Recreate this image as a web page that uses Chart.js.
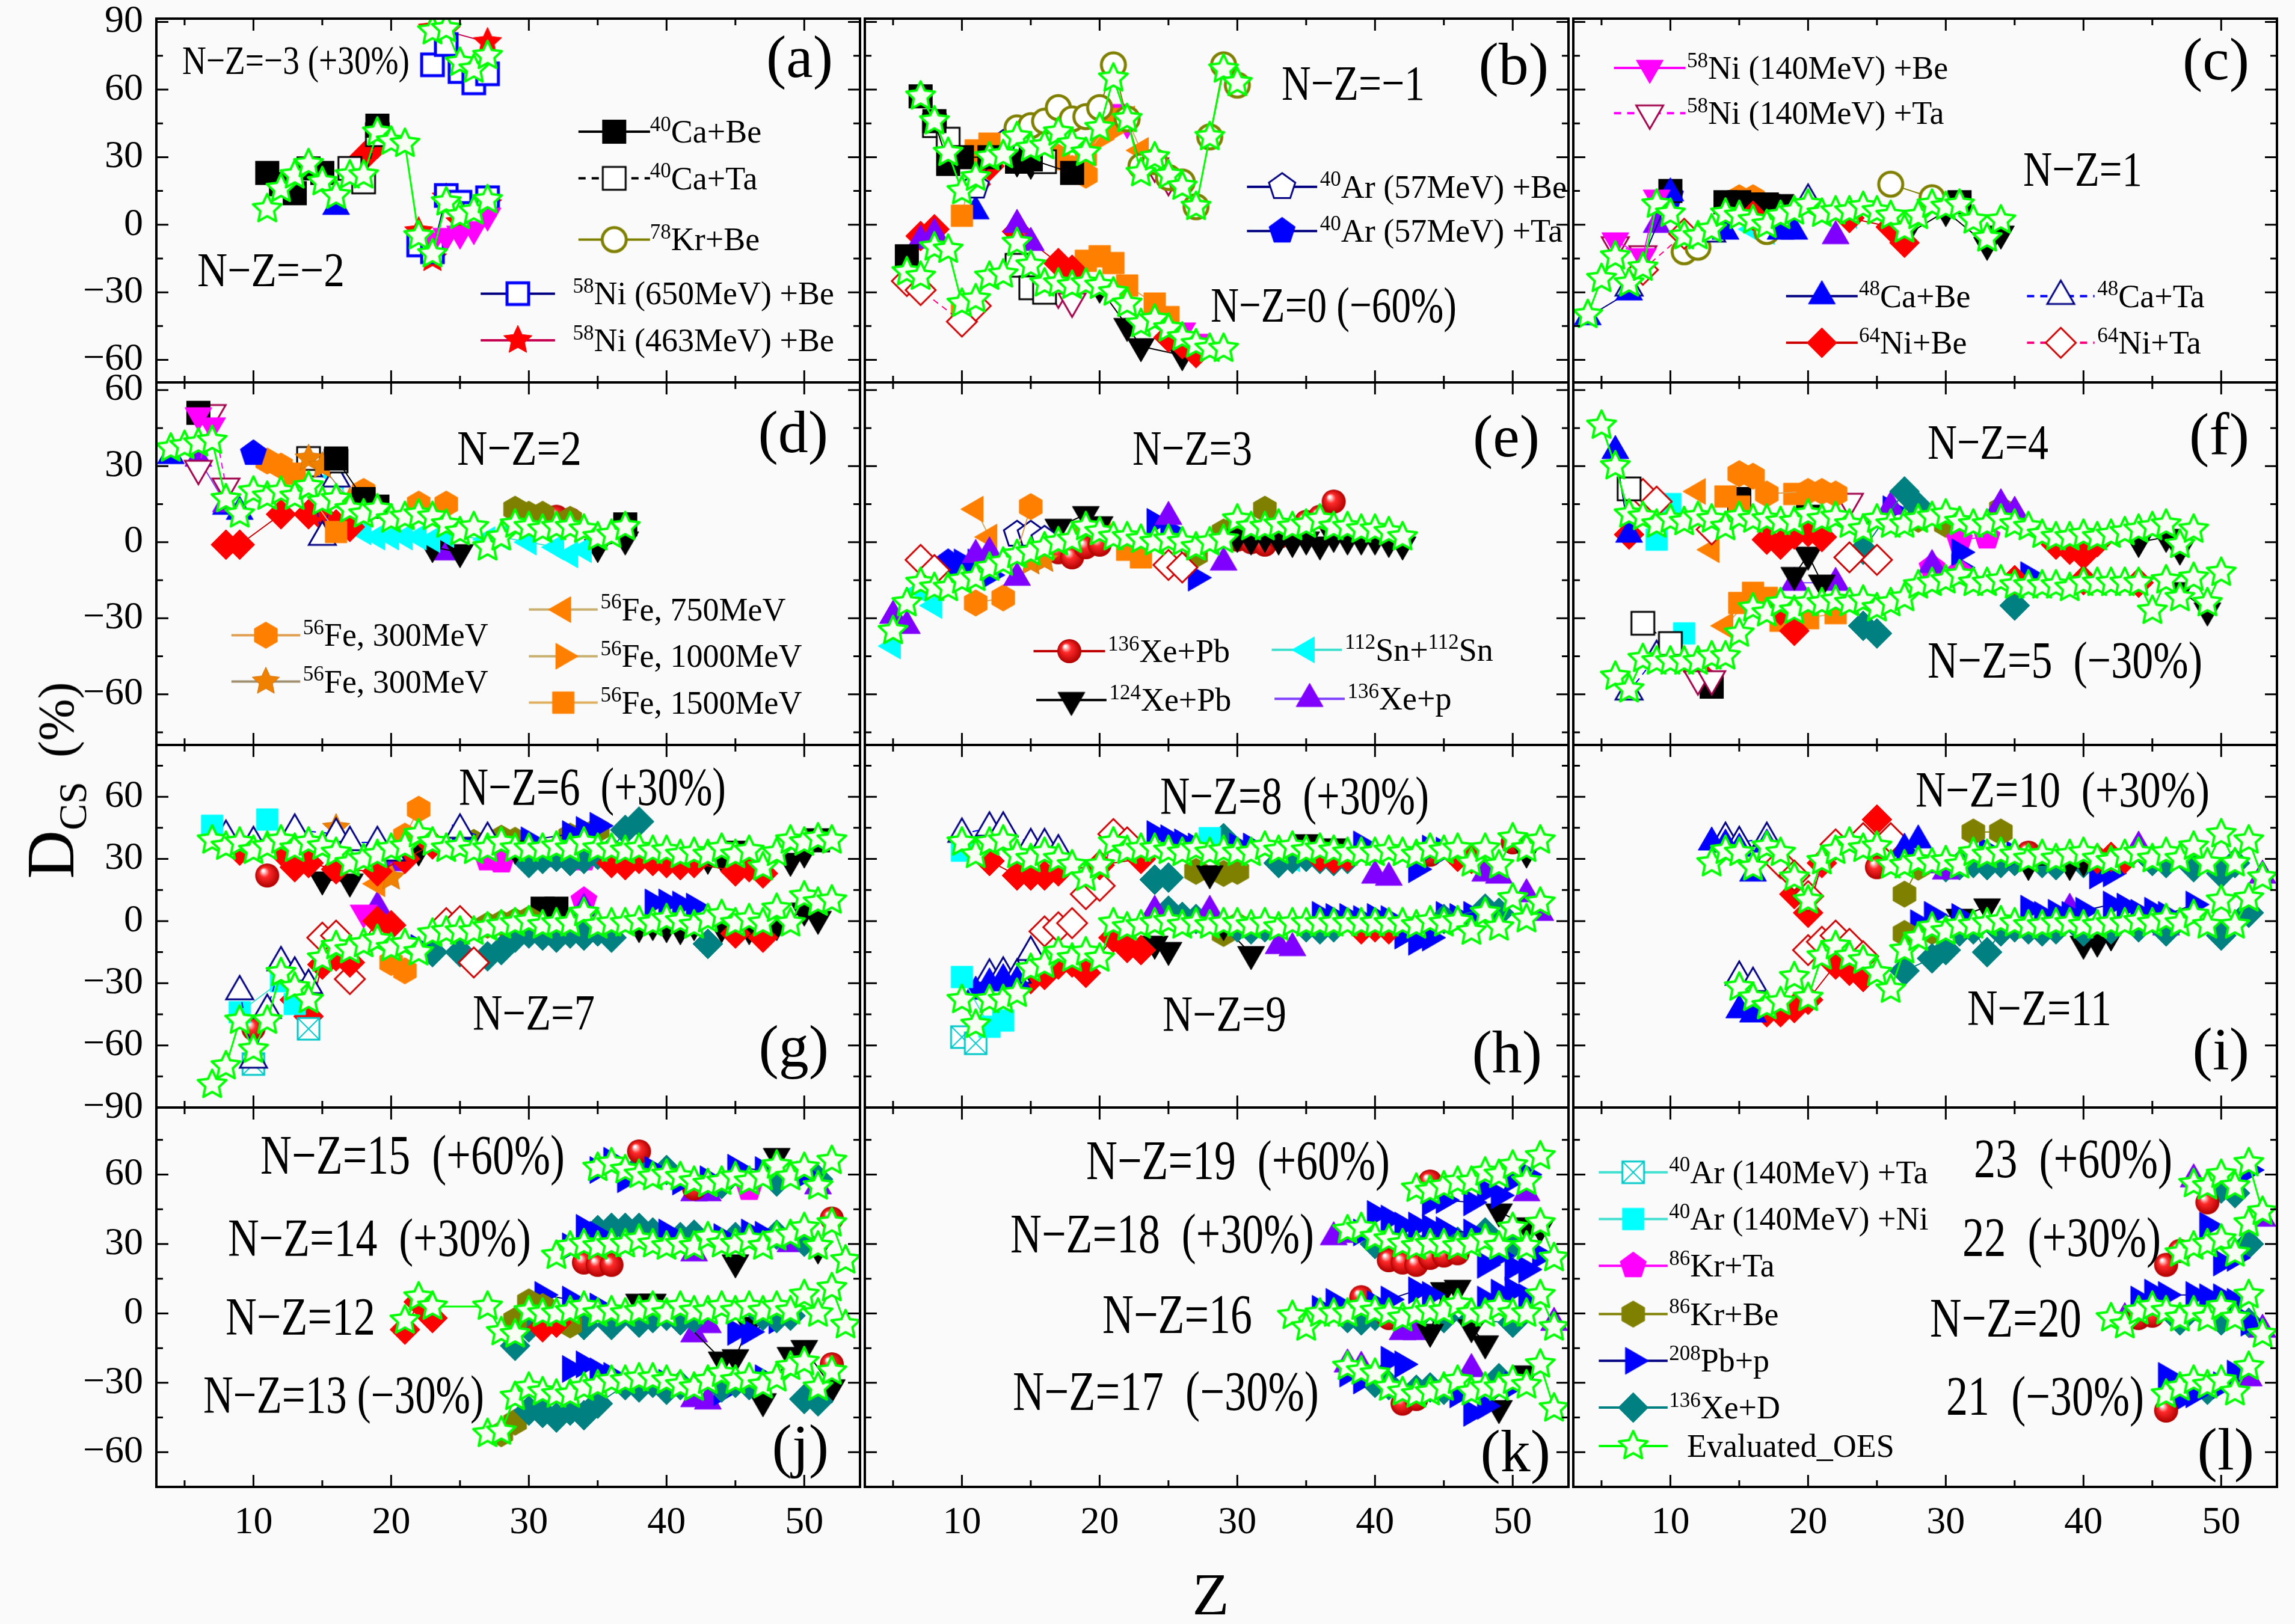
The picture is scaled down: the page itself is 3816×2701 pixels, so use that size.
<!DOCTYPE html>
<html>
<head>
<meta charset="utf-8">
<title>D_CS vs Z</title>
<script src="https://cdn.jsdelivr.net/npm/chart.js@4.4.1/dist/chart.umd.min.js"></script>
<style>
html,body{margin:0;padding:0;background:#fafafa;}
#fig{position:relative;width:3816px;height:2701px;overflow:hidden;background:#fafafa;font-family:"Liberation Serif","DejaVu Serif",serif;}
#fig canvas{position:absolute;}
.ttl{position:absolute;color:#000;white-space:nowrap;line-height:1;z-index:10;}
</style>
</head>
<body>
<div id="fig">
  <div class="ttl" style="left:84px;top:1298px;transform:translate(-50%,-50%) rotate(-90deg);font-size:112px;">D<span style="font-size:66px;position:relative;top:0.32em;">CS</span><span style="font-size:84px;margin-left:40px;">(%)</span></div>
  <div class="ttl" style="left:2013px;top:2652px;transform:translate(-50%,-50%);font-size:100px;">Z</div>
</div>
<script>
// === axes ===
const zRange = [2.95, 54.05];
const zTicks = [10, 20, 30, 40, 50];
const zMinor = [5, 15, 25, 35, 45];
const yRanges = [[-70, 91.5], [-80, 63], [-90, 85], [-75, 89]];
const yTicks = [[90,60,30,0,-30,-60], [60,30,0,-30,-60], [60,30,0,-30,-60,-90], [60,30,0,-30,-60]];
const yMinor = [[75,45,15,-15,-45], [45,15,-15,-45,-75], [75,45,15,-15,-45,-75], [75,45,15,-15,-45]];

// === Evaluated_OES chains: [first Z, values] segments (values as plotted, shifts included) ===
const oesA = [
  [[11, [7,16,22,27,19,13,22,22,41,37,36,-5,-13,10,4,6,11]]],            // N-Z=-2
  [[23, [86,87,72,69,75]]]                                               // N-Z=-3 (+30%)
];
const oesB = [
  [[7, [57,46,32,15,21,30,31,39,34,35,41,36,32,43,65,47,23,30,22,17,8,39,69,63]]],          // N-Z=-1
  [[6, [-21,-23,-10,-11,-35,-33,-23,-22,-8,-18,-26,-26,-27,-26,-27,-30,-35,-44,-42,-46,-50,-53,-55,-55]]] // N-Z=0 (-60%)
];
const oesC = [
  [[4, [-40,-24,-14,-26,-19,9,5,-5,-5,-2,5,4,2,0,4,6,9,5,6,6,8,6,4,-2,4,9,8,9,2,-6,2]]]      // N-Z=1
];
const oesD = [
  [[4, [37,38,39,40,17,11,20,18,20,18,22,16,17,13,11,13,9,10,11,10,7,4,6,-2,2,7,6,5,6,6,5,2,3,6]]] // N-Z=2
];
const oesE = [
  [[5, [-35,-24,-16,-18,-18,-15,-14,-10,-8,-5,-4,-2,0,1,6,4,2,2,1,0,1,0,-2,0,1,9,6,6,7,6,7,9,6,6,5,5,4,2]]] // N-Z=3
];
const oesF = [
  [[5, [46,30,11,10,7,9,8,10,9,6,10,9,9,8,8,11,9,10,7,5,9,7,7,9,10,11,8,7,7,9,7,6,3,2,2,3,2,3,4,5,6,7,-1,5]]], // N-Z=4
  [[6, [-53,-58,-46,-47,-47,-47,-47,-45,-45,-36,-26,-28,-24,-27,-24,-24,-23,-24,-23,-26,-24,-22,-17,-16,-15,-13,-16,-16,-15,-17,-17,-17,-17,-18,-16,-16,-16,-16,-16,-27,-15,-22,-14,-24,-12]]] // N-Z=5 (-30%)
];
const oesG = [
  [[7, [39,36,38,34,36,39,35,38,36,33,28,30,32,35,36,42,38,35,36,34,35,38,35,35,35,36,35,38,35,35,34,35,34,34,32,33,32,35,32,34,26,33,39,38,40,39]]], // N-Z=6 (+30%)
  [[7, [-79,-70,-48,-62,-48,-25,-32,-38,-18,-12,-14,-11,-9,-13,-11,-15,-6,-5,-5,-5,-3,-2,-1,0,-2,-1,-1,4,-2,-1,-1,0,-1,1,0,-2,1,3,-1,1,-1,6,-1,12,9,10]]] // N-Z=7
];
const oesH = [
  [[10, [38,32,38,39,32,30,33,30,27,21,27,38,34,35,35,34,33,35,33,34,33,33,36,34,36,34,35,34,33,33,33,34,33,32,35,34,35,28,35,27,40,35,39]]], // N-Z=8 (+30%)
  [[10, [-38,-50,-38,-38,-35,-23,-21,-15,-18,-15,-18,-1,-3,-2,-1,0,-2,-1,-2,-1,-1,-2,-1,-3,-1,-1,-1,-1,-1,-1,-1,-1,-1,-2,0,-1,0,-5,4,-3,11,1,9]]] // N-Z=9
];
const oesI = [
  [[13, [28,34,33,26,36,33,21,10,29,34,38,35,36,27,27,29,28,29,27,33,32,33,32,30,32,30,32,33,30,29,32,33,30,33,30,36,28,42,28,39,21]]], // N-Z=10 (+30%)
  [[15, [-32,-37,-41,-39,-27,-37,-17,-12,-17,-19,-25,-33,-14,-8,-3,-5,-2,-2,-1,0,-1,-2,-2,-1,-1,-2,-2,-1,-1,0,-1,1,-1,3,-2,10,-2,11]]] // N-Z=11
];
const oesJ = [
  [[35, [63,65,62,60,59,60,59,57,56,57,59,57,59,64,59,63,55,66]]],                 // N-Z=15 (+60%)
  [[32, [25,29,30,29,30,30,32,30,29,30,29,33,30,30,32,29,33,34,37,29,39,23]]],     // N-Z=14 (+30%)
  [[21, [-3,7,3]], [27, [3,-8,-9,1,0,0,1,3,0,1,0,1,3,0,3,1,1,3,1,3,1,3,1,8,0,11,-5]]], // N-Z=12
  [[27, [-52,-51,-36,-32,-34,-35,-35,-32,-31,-29,-29,-28,-28,-29,-31,-32,-29,-26,-29,-28,-31,-28,-23,-21,-32,-25]]] // N-Z=13 (-30%)
];
const oesK = [
  [[43, [54,53,55,57,57,61,60,64,57,68]]],                                         // N-Z=19 (+60%)
  [[38, [36,37,33,32,30,29,30,30,29,30,32,29,37,29,39,24]]],                       // N-Z=18 (+30%)
  [[34, [-1,-6,0,0,0,3,1,0,-2,0,1,1,4,0,0,3,0,0,8,-6]]],                           // N-Z=16
  [[38, [-23,-25,-26,-32,-34,-35,-34,-32,-29,-34,-32,-32,-29,-31,-22,-41]]]        // N-Z=17 (-30%)
];
const oesL = [
  [[48, [56,55,60,55,65,44]]],                 // 23 (+60%)
  [[47, [26,29,30,32,26,39]]],                 // 22 (+30%)
  [[42, [-2,-5,1,3,1,-2,1,-2,3,-2,8,-9]]],     // N-Z=20
  [[46, [-35,-32,-29,-31,-29,-34,-23]]]        // 21 (-30%)
];

// === measured data: [series, [[Z, D], ...]] ===
const expA = [
  ['ca40Be', [[11,23],[12,18],[13,14],[14,25],[15,23],[19,44]]],
  ['ca40Ta', [[17,25],[18,19],[19,40]]],
  ['ca48Be', [[16,8]]],
  ['ni64Be', [[18,30],[19,36]]],
  ['ni58_140Be', [[23,-7],[24,-5],[25,-4],[26,-2],[27,4]]],
  ['ni58_650Be', [[22,-9],[23,-12],[24,13],[25,10],[26,5],[27,12]]],
  ['ni58_650Be', [[23,71],[24,80],[25,68],[26,63],[27,67]]],
  ['ni58_463Be', [[22,-3],[23,-15],[24,12],[25,1],[26,4],[27,9]]],
  ['ni58_463Be', [[23,87],[24,86],[27,81]]]
];
const expB = [
  ['kr78Be', [[14,43],[15,44],[16,46],[17,52],[18,47],[19,48],[20,52],[21,71],[22,47],[23,26],[24,28],[25,21],[26,19],[27,8],[28,39],[29,71],[30,62]]],
  ['ca40Be', [[7,57],[8,46],[9,27],[10,30],[12,30],[14,28],[15,29],[18,23]]],
  ['ca40Ta', [[8,44],[9,38],[16,28]]],
  ['fe1500', [[10,4],[11,33],[12,36],[19,31],[21,47]]],
  ['fe300h', [[11,30],[17,30],[18,25],[19,22]]],
  ['fe1000', [[20,38],[21,42]]],
  ['fe750', [[22,47],[23,33]]],
  ['ar40_57Be', [[11,17],[13,36]]],
  ['ca48Be', [[11,6]]],
  ['ni64Be', [[11,18],[12,26]]],
  ['ni58_140Ta', [[24,26],[25,20]]],
  ['xe124Pb', [[14,28],[15,27]]],
  ['ni58_140Be', [[21,50],[22,45]]],
  ['ca40Be', [[6,-14]]],
  ['xe136p', [[7,-7],[8,-4],[14,0],[15,-8]]],
  ['ni64Be', [[7,-5],[8,-2],[14,-3],[17,-17],[18,-20],[25,-50],[26,-53],[27,-57]]],
  ['ni64Ta', [[6,-25],[7,-29],[10,-43],[11,-36]]],
  ['fe1500', [[10,-40],[19,-16],[20,-14],[21,-17],[22,-27],[24,-35],[25,-41]]],
  ['xe124Pb', [[20,-28],[22,-45],[23,-54],[26,-58]]],
  ['ni58_140Be', [[26,-47],[27,-52]]],
  ['ca40Ta', [[14,-18],[15,-28],[16,-30]]],
  ['ni58_140Ta', [[17,-30],[18,-34]]]
];
const expC = [
  ['ni58_140Be', [[6,-7],[8,-14],[9,12]]],
  ['ni58_140Ta', [[6,-9],[8,-13]]],
  ['ca48Be', [[4,-41],[7,-30],[10,14],[14,-3],[18,-3],[19,-3]]],
  ['ca48Ta', [[7,-28],[13,-4],[20,11]]],
  ['ni64Be', [[16,4],[23,3],[26,-1],[27,-8]]],
  ['ni64Ta', [[8,-20],[11,-4]]],
  ['kr78Be', [[11,-12],[12,-10],[17,-3],[26,18],[29,12]]],
  ['ca40Be', [[10,15],[14,10],[15,10],[16,9],[17,9],[31,10]]],
  ['fe300h', [[15,12],[16,12]]],
  ['xe124Pb', [[17,10],[18,10],[27,-5],[30,6],[33,-9],[34,-4]]],
  ['xe136p', [[9,0],[22,-5]]],
  ['sn112', [[16,-2],[17,-3],[23,4]]],
  ['ar40_57Ta', [[10,13]]]
];
const expD = [
  ['ni58_140Be', [[6,50],[7,46]]],
  ['ca40Be', [[6,51],[16,33],[18,17],[19,14],[37,7]]],
  ['ni58_140Ta', [[6,29],[7,51],[8,22]]],
  ['ar40_57Ta', [[10,35]]],
  ['fe300h', [[11,32],[12,30],[18,20],[22,15],[24,15]]],
  ['fe300s', [[14,33],[15,30],[17,16]]],
  ['fe1500', [[13,27],[16,4]]],
  ['ca40Ta', [[14,33],[16,32]]],
  ['ca48Ta', [[14,29],[15,2],[16,25]]],
  ['ni64Be', [[8,-1],[9,-1],[12,11],[14,11],[15,10],[16,7],[17,6]]],
  ['sn112', [[16,26],[18,4],[19,2],[20,2],[21,2],[22,2],[23,1],[24,3],[27,1],[28,2],[30,0],[32,-2],[33,-5],[34,-3]]],
  ['kr86Be', [[29,13],[30,11],[31,11],[33,9]]],
  ['xe124Pb', [[23,-2],[25,-4],[35,-2],[37,1]]],
  ['xe136p', [[6,33],[8,15],[24,-4]]],
  ['xe136Pb', [[30,9],[31,9],[32,10],[33,9]]],
  ['ca48Be', [[4,34],[8,14],[9,12]]]
];
const expE = [
  ['xe136p', [[5,-29],[6,-33],[11,-5],[12,-4],[14,-14],[25,10],[29,-8]]],
  ['ni64Ta', [[7,-7],[8,-11],[25,-9],[26,-10]]],
  ['sn112', [[5,-41],[7,-19],[8,-25]]],
  ['fe750', [[11,13],[12,2]]],
  ['fe300h', [[11,-24],[13,-22],[15,14]]],
  ['fe300s', [[15,-8],[16,-7]]],
  ['ar40_57Be', [[14,3],[15,3],[16,1]]],
  ['pb208p', [[10,-8],[11,-8],[12,-13],[24,8],[25,5],[27,-14]]],
  ['xe124Pb', [[17,6],[19,11],[20,7],[30,2],[31,1],[32,2],[33,1],[34,0],[35,1],[36,-1],[37,2],[38,1],[39,1],[40,1],[41,0],[42,-1]]],
  ['xe136Pb', [[17,-4],[18,-6],[19,-2],[20,-1],[30,1],[31,0],[32,-1],[33,2],[35,8],[36,10],[37,16]]],
  ['kr86Be', [[27,-5],[29,4],[30,6],[32,13]]],
  ['ar40_57Ta', [[9,-8],[10,-13]]],
  ['fe1500', [[19,4],[20,5],[22,-3],[23,-6]]]
];
const expF = [
  ['ca48Be', [[6,36],[7,3]]],
  ['ca40Ta', [[7,21]]],
  ['ni64Ta', [[8,19],[9,16],[13,5],[23,-6],[25,-7]]],
  ['ar40_140Ni', [[9,1],[10,15]]],
  ['ni64Be', [[7,3],[17,1],[18,-1],[19,3],[20,4],[21,2],[38,-1],[39,-3],[40,-5],[41,0]]],
  ['fe750', [[12,20],[13,-3]]],
  ['fe300h', [[15,27],[16,26],[17,19],[20,20],[21,20],[22,19]]],
  ['fe1500', [[14,18],[15,14],[19,19]]],
  ['ca40Be', [[15,17],[20,10]]],
  ['ni58_140Ta', [[23,16]]],
  ['xe136D', [[24,-3],[27,20],[28,14]]],
  ['xe136p', [[26,14],[34,15],[35,12]]],
  ['pb208p', [[26,13],[31,-4]]],
  ['xe124Pb', [[24,5],[40,2],[44,0],[46,2],[47,-3]]],
  ['kr86Ta', [[31,1],[33,2]]],
  ['kr86Be', [[28,9],[30,7],[34,13]]],
  ['ca40Ta', [[8,-32],[10,-40]]],
  ['ar40_140Ni', [[11,-36]]],
  ['ca48Ta', [[7,-59],[9,-45]]],
  ['ni58_140Ta', [[12,-54],[13,-54]]],
  ['ca40Be', [[13,-57]]],
  ['ni64Be', [[12,-51],[18,-27],[19,-35],[35,-15],[40,-15],[44,-16]]],
  ['fe1500', [[15,-24],[16,-20],[17,-22],[18,-31],[20,-30],[22,-28]]],
  ['fe750', [[14,-33],[16,-21]]],
  ['xe124Pb', [[19,-13],[20,-5],[21,-16],[47,-19],[49,-27]]],
  ['xe136D', [[24,-33],[25,-36],[35,-25]]],
  ['xe136p', [[19,-16],[22,-16],[29,-9]]],
  ['kr86Ta', [[29,-10],[31,-12]]],
  ['pb208p', [[31,-10],[36,-13]]]
];
const expG = [
  ['ar40_140Ni', [[7,46],[11,49]]],
  ['ca48Ta', [[8,41],[10,38],[13,44],[16,42],[17,38],[19,38],[20,33],[25,44],[27,40]]],
  ['xe136Pb', [[11,22]]],
  ['ni64Be', [[9,34],[12,34],[13,26],[14,28],[16,25],[19,24],[21,30],[23,37],[42,28],[45,24],[46,26],[47,23]]],
  ['ni64Be', [[36,28],[37,27],[38,30],[39,29],[40,28],[41,27]]],
  ['xe124Pb', [[15,20],[17,19],[22,34],[29,35],[45,34],[49,29],[50,33]]],
  ['xe124Pb', [[38,31],[39,30],[40,31],[41,30],[42,29],[43,30],[44,31]]],
  ['fe300s', [[16,45],[20,21]]],
  ['fe300h', [[21,41],[22,54]]],
  ['fe750', [[19,18]]],
  ['pb208p', [[25,40],[30,39],[33,42],[34,44],[35,46]]],
  ['kr86Be', [[26,38],[28,40],[29,39],[33,41],[34,42],[35,44]]],
  ['xe136D', [[30,28],[31,30],[32,31],[33,29],[34,30],[35,32],[36,34],[37,44],[38,48]]],
  ['kr86Ta', [[27,30],[28,29],[34,30]]],
  ['xe136p', [[20,28],[32,30]]],
  ['ca40Be', [[45,33],[51,39]]],
  ['ca48Ta', [[9,-34],[10,-67],[11,-43],[12,-20],[13,-25],[14,-31]]],
  ['ar40_140Ta', [[10,-69],[14,-52]]],
  ['ar40_140Ni', [[9,-44],[12,-29],[13,-40]]],
  ['xe136Pb', [[10,-52]]],
  ['ni64Be', [[13,-38],[14,-46],[15,-21],[16,-17],[17,-20],[19,0],[20,-2],[45,-6],[47,-8]]],
  ['ni64Ta', [[15,-8],[16,-7],[17,-28],[24,-1],[25,0],[26,-20]]],
  ['ni58_140Be', [[18,4]]],
  ['xe136p', [[19,7],[34,6]]],
  ['fe300h', [[20,-20],[21,-24]]],
  ['pb208p', [[22,-13],[39,9],[40,9],[41,8],[42,7]]],
  ['xe136D', [[23,-15],[25,-15],[27,-17],[28,-14],[36,-8],[43,-11]]],
  ['xe136D', [[29,-8],[30,-6],[31,-7],[32,-8],[33,-6],[34,-7],[35,-5]]],
  ['kr86Be', [[27,-2],[28,-1],[29,0],[30,1]]],
  ['ca40Be', [[31,6],[32,6]]],
  ['kr86Ta', [[34,10]]],
  ['xe124Pb', [[38,-3],[39,-2],[40,-3],[41,-4],[42,-2],[44,-3],[46,-4],[48,-2],[50,5],[51,1]]]
];
const expH = [
  ['ca48Ta', [[10,42],[12,45],[13,45],[15,37],[16,37],[17,34]]],
  ['ar40_140Ni', [[10,34],[28,40]]],
  ['ni64Be', [[12,29],[14,22],[15,22],[16,22],[17,24],[20,27],[23,30]]],
  ['ni64Be', [[36,31],[37,30],[38,31],[46,31],[47,30]]],
  ['ni64Ta', [[19,13],[20,17],[21,42],[22,38]]],
  ['pb208p', [[24,42],[25,40],[26,38],[27,36],[28,36],[29,35],[30,36],[31,36],[39,37],[43,25],[44,35],[45,34]]],
  ['xe136D', [[24,20],[25,21],[29,40],[33,28],[34,30],[35,31],[36,30],[37,29],[38,30]]],
  ['xe124Pb', [[28,23],[35,38],[37,36],[51,33]]],
  ['kr86Be', [[27,24],[29,23],[30,24]]],
  ['xe136p', [[40,22],[41,21],[48,23],[49,22]]],
  ['sn112', [[34,30]]],
  ['xe136Pb', [[44,32],[50,38]]],
  ['ar40_140Ni', [[10,-27],[12,-51],[13,-48]]],
  ['ar40_140Ta', [[10,-56],[11,-59]]],
  ['ca48Be', [[11,-34],[12,-30],[13,-28],[14,-29]]],
  ['ca48Ta', [[12,-26],[13,-25],[14,-26],[15,-15]]],
  ['ni64Ta', [[16,-5],[17,-3],[18,-1]]],
  ['ni64Be', [[15,-28],[16,-26],[17,-21],[18,-20],[19,-25],[21,-8],[22,-13],[23,-14]]],
  ['ni64Be', [[39,-4],[40,-3],[41,-4]]],
  ['xe136p', [[24,5],[28,5],[33,-12],[34,-13],[51,13],[52,4]]],
  ['xe136D', [[25,5],[26,2],[27,1],[30,-3],[31,-4],[32,-3],[35,-3],[36,-4],[37,-3],[45,1],[48,6],[49,4]]],
  ['xe124Pb', [[24,-11],[25,-14],[29,-2],[31,-16]]],
  ['kr86Be', [[29,-6],[30,-2]]],
  ['pb208p', [[36,3],[37,2],[38,2],[39,1],[40,2],[41,1],[42,-7],[43,-10],[44,-8],[45,3],[46,2],[47,3]]]
];
const expI = [
  ['ca48Be', [[13,38],[14,37],[15,35],[16,23],[17,37],[27,35],[28,39]]],
  ['ca48Ta', [[14,40],[15,38],[17,40]]],
  ['ni64Ta', [[18,28],[19,22],[20,12],[22,37],[24,40],[26,40]]],
  ['ni64Be', [[19,13],[20,4],[21,28],[25,49]]],
  ['ni64Be', [[41,30],[42,31],[43,30]]],
  ['xe136Pb', [[25,26],[36,33]]],
  ['kr86Be', [[27,13],[28,26],[32,43],[34,43]]],
  ['xe136p', [[29,27],[30,24],[44,36],[53,22]]],
  ['pb208p', [[27,33],[33,34],[35,32],[41,22],[42,23]]],
  ['xe124Pb', [[36,27],[39,27],[40,29]]],
  ['xe136D', [[30,26],[31,27],[32,28],[33,27],[34,28],[35,29],[37,28],[38,27],[39,29],[40,28]]],
  ['xe136D', [[45,29],[46,28],[48,26],[50,23],[51,28]]],
  ['ca48Ta', [[15,-27],[16,-30]]],
  ['ca48Be', [[15,-43],[16,-45]]],
  ['ni64Be', [[17,-44],[18,-44],[19,-42],[20,-38],[22,-21],[23,-24],[24,-27]]],
  ['ni64Ta', [[20,-14],[21,-10],[22,-7],[23,-11],[24,-17]]],
  ['xe136D', [[27,-24],[29,-18],[30,-14],[31,-5],[32,-4],[33,-15],[34,-5],[35,-3],[36,-4],[37,-5],[38,-4],[40,-5],[42,-4],[44,-3],[46,-5],[50,-7],[52,4]]],
  ['kr86Be', [[27,-6],[29,-5]]],
  ['pb208p', [[28,-1],[29,3],[31,2],[36,6],[37,3],[38,4],[39,3],[40,5],[42,8],[43,7],[44,4],[45,5],[46,3],[48,8]]],
  ['xe124Pb', [[31,2],[33,7],[40,-11],[41,-10],[42,-7]]],
  ['xe136p', [[39,6],[46,-3]]]
];
const expJ = [
  ['pb208p', [[35,62],[36,66],[37,58],[39,62],[41,57],[43,58],[45,63],[47,62],[50,60]]],
  ['xe136Pb', [[38,70],[42,54]]],
  ['xe136D', [[38,63],[40,62],[44,56],[48,57],[51,58]]],
  ['xe136p', [[42,52],[43,52],[51,55]]],
  ['xe124Pb', [[48,68]]],
  ['kr86Ta', [[46,54]]],
  ['pb208p', [[33,29],[34,37],[35,34],[40,35],[44,33],[46,35],[47,34]]],
  ['xe136D', [[35,36],[36,37],[37,37],[38,37],[39,35],[41,33],[42,34],[45,33],[48,34],[50,31]]],
  ['xe136Pb', [[34,22],[35,21],[36,21],[52,41]]],
  ['xe124Pb', [[45,22],[51,28]]],
  ['xe136p', [[42,26],[49,30]]],
  ['ni64Be', [[21,-7],[22,5],[23,-2],[31,-6],[32,-4]]],
  ['kr86Be', [[29,-3],[30,5],[31,3],[32,-4],[33,-5]]],
  ['xe136D', [[29,-14],[30,-6],[34,-5],[36,-5],[38,-4],[39,-2],[40,-1],[41,-3],[42,-2],[47,-1],[48,-2],[49,-1]]],
  ['pb208p', [[31,8],[33,6],[35,3],[45,-8],[46,-8],[48,-3]]],
  ['xe124Pb', [[38,5],[39,5],[41,-2],[44,-20],[45,-19],[46,-5]]],
  ['xe136p', [[42,-9],[43,-5]]],
  ['xe136D', [[30,-42],[31,-43],[32,-45],[33,-42],[34,-44],[35,-39],[37,-31],[38,-32],[39,-30],[40,-33],[41,-31],[44,-32],[45,-30],[46,-31],[50,-37],[51,-38]]],
  ['kr86Be', [[28,-52],[29,-47]]],
  ['pb208p', [[33,-24],[34,-22],[35,-25],[36,-27],[40,-30],[44,-34],[47,-28]]],
  ['xe136p', [[42,-37],[43,-38]]],
  ['xe124Pb', [[47,-38],[49,-18],[50,-15],[52,-32]]],
  ['xe136Pb', [[52,-22]]]
];
const expK = [
  ['pb208p', [[44,48],[45,49],[47,48],[48,53],[49,51],[50,58],[51,60]]],
  ['xe136Pb', [[44,57]]],
  ['xe136p', [[51,52]]],
  ['pb208p', [[39,35],[40,43],[41,41],[42,38],[43,38],[44,37],[45,36],[47,35],[48,21],[49,25],[50,20],[51,19],[52,25]]],
  ['xe136Pb', [[41,23],[42,22],[43,21],[44,24],[45,25],[46,26]]],
  ['xe124Pb', [[49,44],[51,38],[52,37]]],
  ['xe136p', [[37,33],[38,34]]],
  ['xe136D', [[40,30],[41,31],[42,30],[43,29],[44,31],[46,31],[48,35],[50,30]]],
  ['pb208p', [[36,2],[37,5],[40,4],[41,6],[43,10],[44,8],[48,6],[49,9],[50,10],[51,7]]],
  ['xe136Pb', [[39,7],[41,-2]]],
  ['xe124Pb', [[44,-8],[45,10],[46,11],[47,-6],[48,-13]]],
  ['xe136p', [[42,-8],[43,-8],[53,-4]]],
  ['xe136D', [[38,-2],[39,-3],[40,-1],[42,-3],[43,-2],[45,-2],[47,-3],[50,-4]]],
  ['pb208p', [[38,-26],[39,-29],[41,-20],[42,-22],[46,-35],[47,-43],[48,-40],[50,-31]]],
  ['xe136Pb', [[42,-39],[43,-37]]],
  ['xe136p', [[38,-22],[39,-23],[47,-24]]],
  ['xe124Pb', [[49,-41],[51,-26]]],
  ['xe136D', [[40,-30],[41,-31],[43,-33],[44,-32],[45,-33],[49,-28]]]
];
const expL = [
  ['xe136Pb', [[49,48]]],
  ['xe136Pb', [[46,21],[47,27]]],
  ['xe136Pb', [[44,-2],[45,-1]]],
  ['xe136Pb', [[46,-42]]],
  ['pb208p', [[52,62]]],
  ['pb208p', [[49,38],[50,22],[51,24]]],
  ['pb208p', [[44,6],[45,9],[46,8],[48,8],[49,7],[50,7],[51,5],[52,-4]]],
  ['pb208p', [[46,-27],[47,-37],[48,-35],[50,-31],[51,-26]]],
  ['xe136p', [[48,58],[53,41]]],
  ['xe136p', [[43,-2],[53,-7]]],
  ['xe136p', [[52,-28]]],
  ['xe136D', [[50,54],[51,52]]],
  ['xe136D', [[52,30]]],
  ['xe136D', [[47,-3],[50,-3],[52,-4]]],
  ['xe136D', [[49,-33]]]
];

// === text in the panels: [text, left px, right px, centre y px, cap height] ===
const notesA = [['N\u2212Z=\u22123 (+30%)',303,681,100,45], ['N\u2212Z=\u22122',328,573,449,53]];
const notesB = [['N\u2212Z=\u22121',2131,2369,138,55], ['N\u2212Z=0 (\u221260%)',2013,2422,507,55]];
const notesC = [['N\u2212Z=1',3364,3562,281,55]];
const notesD = [['N\u2212Z=2',760,967,745,55]];
const notesE = [['N\u2212Z=3',1883,2082,745,55]];
const notesF = [['N\u2212Z=4',3205,3406,735,55], ['N\u2212Z=5  (\u221230%)',3205,3662,1098,57]];
const notesG = [['N\u2212Z=6  (+30%)',763,1207,1309,58], ['N\u2212Z=7',786,989,1685,56]];
const notesH = [['N\u2212Z=8  (+30%)',1929,2376,1324,58], ['N\u2212Z=9',1933,2139,1687,56]];
const notesI = [['N\u2212Z=10  (+30%)',3185,3674,1314,56], ['N\u2212Z=11',3271,3511,1677,56]];
const notesJ = [['N\u2212Z=15  (+60%)',433,939,1921,61], ['N\u2212Z=14  (+30%)',379,883,2059,58], ['N\u2212Z=12',375,624,2190,58], ['N\u2212Z=13 (\u221230%)',338,805,2320,58]];
const notesK = [['N\u2212Z=19  (+60%)',1806,2311,1930,61], ['N\u2212Z=18  (+30%)',1680,2185,2052,61], ['N\u2212Z=16',1833,2082,2186,61], ['N\u2212Z=17  (\u221230%)',1684,2193,2314,61]];
const notesL = [['23  (+60%)',3282,3612,1927,61], ['22  (+30%)',3263,3593,2058,61], ['N\u2212Z=20',3209,3461,2192,61], ['21  (\u221230%)',3236,3565,2322,61]];

// === legends: [series, line from Z, line to Z, at D, text from Z] ===
const legA = [['ca40Be',33.6,38.8,41.3,38.8], ['ca40Ta',33.6,38.8,20.6,38.8], ['kr78Be',33.6,38.8,-6.6,38.8], ['ni58_650Be',26.5,31.9,-30.6,33.2], ['ni58_463Be',26.5,31.9,-51.3,33.2]];
const legB = [['ar40_57Be',30.7,35.8,16.8,36.0], ['ar40_57Ta',30.7,35.8,-2.8,36.0]];
const legC = [['ni58_140Be',5.9,11.1,69.6,11.2], ['ni58_140Ta',5.9,11.1,49.5,11.2], ['ca48Be',18.4,23.6,-31.7,23.7], ['ca48Ta',35.9,40.8,-31.7,41.0], ['ni64Be',18.4,23.6,-52.4,23.7], ['ni64Ta',35.9,40.8,-52.4,41.0]];
const legD = [['fe300h',8.4,13.4,-36.7,13.6], ['fe300s',8.4,13.4,-55,13.6], ['fe750',30,35,-26.6,35.2], ['fe1000',30,35,-45,35.2], ['fe1500',30,35,-63.3,35.2]];
const legE = [['xe136Pb',15.2,20.4,-43,20.6], ['xe124Pb',15.4,20.5,-62.3,20.7], ['sn112',32.5,37.6,-42.5,37.8], ['xe136p',32.7,37.8,-61.8,38.0]];
const legL = [['ar40_140Ta',4.8,9.8,61,9.9], ['ar40_140Ni',4.8,9.8,40.8,9.9], ['kr86Ta',4.8,9.8,20.6,9.9], ['kr86Be',4.8,9.8,-0.3,9.9], ['pb208p',4.8,9.8,-20.5,9.9], ['xe136D',4.8,9.8,-40.7,9.9], ['oes',4.8,9.8,-57.3,11.2]];

// === series look ===
const STYLE = {
  ca40Be:     {shape:'sq',   r:19, fill:'#000000', stroke:'#000000', lw:2, line:'#000000', text:[['40',1],['Ca+Be',0]]},
  ca40Ta:     {shape:'sq',   r:19, fill:'#ffffff', stroke:'#000000', lw:3, line:'#000000', dash:true, text:[['40',1],['Ca+Ta',0]]},
  kr78Be:     {shape:'circ', r:20, fill:'#ffffff', stroke:'#808000', lw:5, line:'#808000', text:[['78',1],['Kr+Be',0]]},
  ni58_650Be: {shape:'sq',   r:18, fill:'#ffffff', stroke:'#0000ff', lw:5, line:'#000080', text:[['58',1],['Ni (650MeV) +Be',0]]},
  ni58_463Be: {shape:'star', r:25, fill:'#ff0000', stroke:'#ff0000', lw:1, line:'#c80050', text:[['58',1],['Ni (463MeV) +Be',0]]},
  ar40_57Be:  {shape:'pent', r:23, fill:'#ffffff', stroke:'#000080', lw:3, line:'#000080', text:[['40',1],['Ar (57MeV) +Be',0]]},
  ar40_57Ta:  {shape:'pent', r:23, fill:'#0000ff', stroke:'#0000ff', lw:1, line:'#000080', text:[['40',1],['Ar (57MeV) +Ta',0]]},
  ni58_140Be: {shape:'dtri', r:26, fill:'#ff00ff', stroke:'#ff00ff', lw:1, line:'#ff00ff', text:[['58',1],['Ni (140MeV) +Be',0]]},
  ni58_140Ta: {shape:'dtri', r:26, fill:'#ffffff', stroke:'#a0004a', lw:3, line:'#ff00ff', dash:true, text:[['58',1],['Ni (140MeV) +Ta',0]]},
  ca48Be:     {shape:'tri',  r:26, fill:'#0000ff', stroke:'#0000ff', lw:1, line:'#000080', text:[['48',1],['Ca+Be',0]]},
  ca48Ta:     {shape:'tri',  r:26, fill:'#ffffff', stroke:'#000080', lw:3, line:'#0000ff', dash:true, text:[['48',1],['Ca+Ta',0]]},
  ni64Be:     {shape:'dia',  r:25, fill:'#ff0000', stroke:'#ff0000', lw:1, line:'#cc0000', text:[['64',1],['Ni+Be',0]]},
  ni64Ta:     {shape:'dia',  r:25, fill:'#ffffff', stroke:'#cc0000', lw:3, line:'#ff0080', dash:true, text:[['64',1],['Ni+Ta',0]]},
  fe300h:     {shape:'hex',  r:22, fill:'#ff8000', stroke:'#ff8000', lw:1, line:'#e0a050', text:[['56',1],['Fe, 300MeV',0]]},
  fe300s:     {shape:'star', r:24, fill:'#f08000', stroke:'#d07000', lw:1, line:'#a09070', text:[['56',1],['Fe, 300MeV',0]]},
  fe750:      {shape:'ltri', r:25, fill:'#ff8000', stroke:'#ff8000', lw:1, line:'#c8b070', text:[['56',1],['Fe, 750MeV',0]]},
  fe1000:     {shape:'rtri', r:25, fill:'#ff8000', stroke:'#ff8000', lw:1, line:'#c8b070', text:[['56',1],['Fe, 1000MeV',0]]},
  fe1500:     {shape:'sq',   r:18, fill:'#ff8000', stroke:'#ff8000', lw:1, line:'#e0b060', text:[['56',1],['Fe, 1500MeV',0]]},
  xe136Pb:    {shape:'ball', r:20, fill:'#ff0000', line:'#c00000', text:[['136',1],['Xe+Pb',0]]},
  sn112:      {shape:'ltri', r:25, fill:'#00ffff', stroke:'#00ffff', lw:1, line:'#40e0d0', text:[['112',1],['Sn+',0],['112',1],['Sn',0]]},
  xe124Pb:    {shape:'dtri', r:26, fill:'#000000', stroke:'#000000', lw:1, line:'#000000', text:[['124',1],['Xe+Pb',0]]},
  xe136p:     {shape:'tri',  r:26, fill:'#8000ff', stroke:'#8000ff', lw:1, line:'#8040ff', text:[['136',1],['Xe+p',0]]},
  ar40_140Ta: {shape:'xsq',  r:18, fill:'#ffffff', stroke:'#00c8c8', lw:3, line:'#40e0d0', text:[['40',1],['Ar (140MeV) +Ta',0]]},
  ar40_140Ni: {shape:'sq',   r:18, fill:'#00ffff', stroke:'#00ffff', lw:1, line:'#40e0d0', text:[['40',1],['Ar (140MeV) +Ni',0]]},
  kr86Ta:     {shape:'pent', r:23, fill:'#ff00ff', stroke:'#ff00ff', lw:1, line:'#ff00ff', text:[['86',1],['Kr+Ta',0]]},
  kr86Be:     {shape:'hex',  r:22, fill:'#808000', stroke:'#808000', lw:1, line:'#808000', text:[['86',1],['Kr+Be',0]]},
  pb208p:     {shape:'rtri', r:26, fill:'#0000ff', stroke:'#0000ff', lw:1, line:'#000080', text:[['208',1],['Pb+p',0]]},
  xe136D:     {shape:'dia',  r:25, fill:'#008080', stroke:'#008080', lw:1, line:'#008080', text:[['136',1],['Xe+D',0]]},
  oes:        {shape:'star', r:25, fill:'#f6fff2', stroke:'#00ff00', lw:4, line:'#00ff00', text:[['Evaluated_OES',0]]}
};

// === page layout (px) ===
const colL = [260, 1438, 2616], colW = 1178;
const rowT = [31, 636, 1239, 1842], rowH = [605, 603, 603, 631];
const LM = 240, TM = 70, RM = 20, BM = 130;
const FONT = '"Liberation Serif","DejaVu Serif",serif';

const panels = [
  {id:'(a)', r:0, c:0, oes:oesA, exp:expA, notes:notesA, legend:legA, lab:[1385,102]},
  {id:'(b)', r:0, c:1, oes:oesB, exp:expB, notes:notesB, legend:legB, lab:[2575,114]},
  {id:'(c)', r:0, c:2, oes:oesC, exp:expC, notes:notesC, legend:legC, lab:[3740,106]},
  {id:'(d)', r:1, c:0, oes:oesD, exp:expD, notes:notesD, legend:legD, lab:[1377,726]},
  {id:'(e)', r:1, c:1, oes:oesE, exp:expE, notes:notesE, legend:legE, lab:[2560,733]},
  {id:'(f)', r:1, c:2, oes:oesF, exp:expF, notes:notesF, legend:[],   lab:[3740,730]},
  {id:'(g)', r:2, c:0, oes:oesG, exp:expG, notes:notesG, legend:[],   lab:[1378,1748]},
  {id:'(h)', r:2, c:1, oes:oesH, exp:expH, notes:notesH, legend:[],   lab:[2564,1757]},
  {id:'(i)', r:2, c:2, oes:oesI, exp:expI, notes:notesI, legend:[],   lab:[3740,1752]},
  {id:'(j)', r:3, c:0, oes:oesJ, exp:expJ, notes:notesJ, legend:[],   lab:[1378,2412]},
  {id:'(k)', r:3, c:1, oes:oesK, exp:expK, notes:notesK, legend:[],   lab:[2578,2421]},
  {id:'(l)', r:3, c:2, oes:oesL, exp:expL, notes:notesL, legend:legL, lab:[3748,2418]}
];

// === markers ===
function makeMarker(st){
  const lw = st.lw || 1, pad = Math.ceil(lw) + 2;
  const s = Math.ceil(2 * st.r + 2 * pad);
  const c = document.createElement('canvas'); c.width = s; c.height = s;
  const g = c.getContext('2d'), m = s / 2, r = st.r;
  const poly = (n, a0, rr) => {
    g.beginPath();
    for (let i = 0; i < n; i++) { const a = a0 + i * 2 * Math.PI / n; g[i ? 'lineTo' : 'moveTo'](m + rr * Math.cos(a), m + rr * Math.sin(a)); }
    g.closePath();
  };
  switch (st.shape) {
    case 'sq': case 'xsq': g.beginPath(); g.rect(m - r, m - r, 2 * r, 2 * r); break;
    case 'circ': case 'ball': g.beginPath(); g.arc(m, m, r, 0, 2 * Math.PI); break;
    case 'tri':  poly(3, -Math.PI / 2, r); break;
    case 'dtri': poly(3, Math.PI / 2, r); break;
    case 'ltri': poly(3, Math.PI, r); break;
    case 'rtri': poly(3, 0, r); break;
    case 'dia':  poly(4, -Math.PI / 2, r); break;
    case 'pent': poly(5, -Math.PI / 2, r); break;
    case 'hex':  poly(6, -Math.PI / 2, r); break;
    case 'star':
      g.beginPath();
      for (let i = 0; i < 10; i++) { const a = -Math.PI / 2 + i * Math.PI / 5, rr = i % 2 ? r * 0.48 : r; g[i ? 'lineTo' : 'moveTo'](m + rr * Math.cos(a), m + rr * Math.sin(a)); }
      g.closePath(); break;
  }
  if (st.shape === 'ball') {
    const gr = g.createRadialGradient(m - r * 0.35, m - r * 0.4, r * 0.08, m, m, r);
    gr.addColorStop(0, '#ffffff'); gr.addColorStop(0.35, '#ff2a2a'); gr.addColorStop(1, '#b00000');
    g.fillStyle = gr;
  } else g.fillStyle = st.fill;
  g.fill();
  if (st.stroke) { g.lineJoin = st.shape === 'star' ? 'round' : 'miter'; g.lineWidth = lw; g.strokeStyle = st.stroke; g.stroke(); }
  if (st.shape === 'xsq') { g.beginPath(); g.moveTo(m - r, m - r); g.lineTo(m + r, m + r); g.moveTo(m + r, m - r); g.lineTo(m - r, m + r); g.lineWidth = 2; g.stroke(); }
  return c;
}
const MARK = {};
Object.keys(STYLE).forEach(k => { MARK[k] = makeMarker(STYLE[k]); });

// === data -> points ===
function chainPts(chain){
  const pts = [];
  chain.forEach(([z0, vals]) => vals.forEach((v, i) => pts.push({x: z0 + i, y: v})));
  return pts;
}
function expPts(pairs){
  const srt = pairs.slice().sort((a, b) => a[0] - b[0]), pts = [];
  srt.forEach(([z, v], i) => {
    if (i && z - srt[i - 1][0] > 3) pts.push({x: (z + srt[i - 1][0]) / 2, y: null}); // no line over long gaps
    pts.push({x: z, y: v});
  });
  return pts;
}
function dataset(key, pts, order){
  const st = STYLE[key];
  return {
    data: pts, showLine: true, spanGaps: false, order: order, clip: 0,
    borderColor: st.line, borderWidth: key === 'oes' ? 3 : 2,
    borderDash: st.dash ? [10, 8] : [],
    pointStyle: MARK[key], pointRadius: st.r, pointHoverRadius: st.r, pointHitRadius: 0
  };
}

// === text helpers ===
function fitText(ctx, t, x1, x2, cy, cap){
  const size = cap / 0.66;
  ctx.font = size.toFixed(1) + 'px ' + FONT;
  const w = ctx.measureText(t).width;
  ctx.save();
  ctx.translate(x1, cy + cap / 2);
  ctx.scale((x2 - x1) / w, 1);
  ctx.textAlign = 'left'; ctx.textBaseline = 'alphabetic'; ctx.fillStyle = '#000';
  ctx.fillText(t, 0, 0);
  ctx.restore();
}
function drawRich(ctx, segs, x, y, size){
  let cx = x;
  ctx.textAlign = 'left'; ctx.textBaseline = 'alphabetic'; ctx.fillStyle = '#000';
  segs.forEach(([t, sup]) => {
    ctx.font = (sup ? Math.round(size * 0.64) : size) + 'px ' + FONT;
    ctx.fillText(t, cx, sup ? y - size * 0.36 : y);
    cx += ctx.measureText(t).width;
  });
}

function panelPlugin(p, ox, oy){
  return {
    id: 'panel',
    afterDatasetsDraw(chart){
      const {ctx, chartArea: a, scales: {x: xs, y: ys}} = chart;
      ctx.save();
      ctx.strokeStyle = '#000'; ctx.lineWidth = 3;
      ctx.beginPath();
      const vt = (v, len) => { const X = xs.getPixelForValue(v); ctx.moveTo(X, a.bottom); ctx.lineTo(X, a.bottom - len); ctx.moveTo(X, a.top); ctx.lineTo(X, a.top + len); };
      const ht = (v, len) => { const Y = ys.getPixelForValue(v); ctx.moveTo(a.left, Y); ctx.lineTo(a.left + len, Y); ctx.moveTo(a.right, Y); ctx.lineTo(a.right - len, Y); };
      zTicks.forEach(v => vt(v, 20)); zMinor.forEach(v => vt(v, 11));
      yTicks[p.r].forEach(v => ht(v, 20)); yMinor[p.r].forEach(v => ht(v, 11));
      ctx.stroke();
      ctx.lineWidth = 4;
      ctx.strokeRect(a.left, a.top, a.right - a.left, a.bottom - a.top);
      ctx.restore();
    },
    afterDraw(chart){
      const {ctx, scales: {x: xs, y: ys}} = chart;
      ctx.save();
      p.notes.forEach(([t, x1, x2, cy, cap]) => fitText(ctx, t, x1 - ox, x2 - ox, cy - oy, cap));
      ctx.font = '100px ' + FONT; ctx.textAlign = 'right'; ctx.textBaseline = 'alphabetic'; ctx.fillStyle = '#000';
      ctx.fillText(p.id, p.lab[0] - ox, p.lab[1] - oy + 26);
      p.legend.forEach(([key, z1, z2, v, zt]) => {
        const st = STYLE[key];
        const x1 = xs.getPixelForValue(z1), x2 = xs.getPixelForValue(z2), y = ys.getPixelForValue(v);
        ctx.save();
        ctx.strokeStyle = st.line; ctx.lineWidth = 4;
        if (st.dash) ctx.setLineDash([12, 10]);
        ctx.beginPath(); ctx.moveTo(x1, y); ctx.lineTo(x2, y); ctx.stroke();
        ctx.restore();
        const img = MARK[key];
        ctx.drawImage(img, (x1 + x2) / 2 - img.width / 2, y - img.height / 2);
        drawRich(ctx, st.text, xs.getPixelForValue(zt), y + 18, 54);
      });
      ctx.restore();
    }
  };
}

const tickFont = {family: FONT, size: 64};
const fmt = v => (v < 0 ? '\u2212' + (-v) : '' + v);
const fig = document.getElementById('fig');

panels.forEach(p => {
  const L = colL[p.c], T = rowT[p.r], H = rowH[p.r];
  const ox = L - LM, oy = T - TM;
  const cv = document.createElement('canvas');
  cv.width = LM + colW + RM; cv.height = TM + H + BM;
  cv.style.left = ox + 'px'; cv.style.top = oy + 'px';
  cv.style.width = cv.width + 'px'; cv.style.height = cv.height + 'px';
  fig.insertBefore(cv, fig.firstChild);

  const datasets = [];
  p.oes.forEach(chain => datasets.push(dataset('oes', chainPts(chain), 0)));
  p.exp.forEach(([key, pairs]) => datasets.push(dataset(key, expPts(pairs), 1)));

  new Chart(cv, {
    type: 'scatter',
    data: {datasets},
    options: {
      responsive: false, animation: false, devicePixelRatio: 1, events: [],
      layout: {padding: {left: 0, top: TM, right: RM, bottom: 0}},
      plugins: {legend: {display: false}, tooltip: {enabled: false}},
      scales: {
        x: {
          type: 'linear', min: zRange[0], max: zRange[1],
          grid: {display: false, drawTicks: false}, border: {display: false},
          afterBuildTicks: s => { s.ticks = zTicks.map(v => ({value: v})); },
          afterFit: s => { s.height = BM; },
          ticks: {display: p.r === 3, padding: 22, color: '#000', font: tickFont}
        },
        y: {
          type: 'linear', min: yRanges[p.r][0], max: yRanges[p.r][1],
          grid: {display: false, drawTicks: false}, border: {display: false},
          afterBuildTicks: s => { s.ticks = yTicks[p.r].map(v => ({value: v})); },
          afterFit: s => { s.width = LM; },
          ticks: {display: p.c === 0, padding: 22, color: '#000', font: tickFont, callback: fmt}
        }
      }
    },
    plugins: [panelPlugin(p, ox, oy)]
  });
});
</script>
</body>
</html>
